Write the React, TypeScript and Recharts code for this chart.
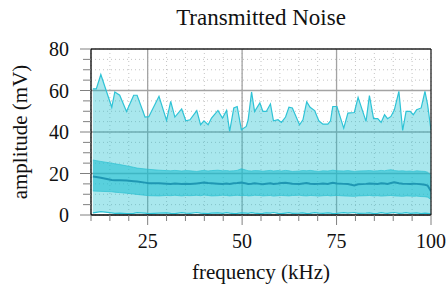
import { ComposedChart, Area, Line, XAxis, YAxis, CartesianGrid, ReferenceLine } from "recharts";

const FREQ = [
  10.5, 11.4, 12.6, 15.5, 16.3, 17.6, 19.4, 21.3, 22.2, 24.3,
  25.3, 28.0, 30.0, 31.1, 32.2, 34.0, 35.1, 36.2, 38.0, 39.0,
  39.9, 41.0, 41.9, 43.6, 44.8, 45.9, 46.7, 47.8, 48.7, 49.8,
  51.1, 51.6, 52.5, 53.3, 54.7, 55.5, 56.4, 57.5, 58.3, 59.5,
  60.4, 61.5, 62.4, 63.3, 65.2, 66.1, 67.1, 68.0, 69.2, 70.3,
  71.4, 72.7, 73.4, 74.0, 75.1, 76.9, 78.0, 79.7, 80.7, 82.8,
  83.7, 84.8, 85.9, 86.8, 87.7, 88.5, 89.4, 90.3, 91.5, 92.5,
  93.4, 94.5, 95.3, 96.2, 97.4, 98.4, 99.1, 100,
];

const MAX_AMP = [
  60.8, 60.8, 67.7, 51.9, 59.3, 57.7, 49.9, 57.7, 57.7, 47.2,
  47.4, 57.2, 45.6, 54.8, 47.2, 51.1, 45.4, 45.9, 50.3, 43.5,
  45.4, 43.5, 46.7, 50.4, 46.7, 50.4, 40.3, 51.6, 52.3, 41.1,
  42.7, 45.9, 59.3, 49.9, 54.0, 49.9, 49.9, 53.5, 45.4, 45.9,
  44.6, 47.2, 52.0, 51.6, 43.5, 45.9, 54.5, 51.9, 50.3, 45.4,
  43.8, 43.8, 45.4, 52.3, 52.3, 41.9, 49.1, 49.4, 56.7, 45.1,
  57.5, 46.4, 46.4, 44.6, 48.3, 46.4, 47.5, 50.7, 59.6, 40.8,
  49.9, 49.9, 48.3, 50.7, 51.6, 59.6, 53.2, 41,
];

const UPPER_AMP = [
  26.5, 26.2, 25.8, 25.0, 24.7, 24.3, 23.7, 23.0, 22.6, 22.2,
  22.0, 21.6, 21.4, 21.3, 21.5, 21.2, 21.4, 21.3, 21.0, 21.3,
  21.5, 21.2, 21.4, 21.6, 21.3, 21.4, 21.2, 21.3, 21.5, 22.3,
  21.6, 21.3, 21.2, 21.4, 21.3, 21.1, 21.3, 21.5, 21.2, 21.4,
  21.2, 21.5, 21.3, 21.0, 21.2, 21.4, 21.3, 21.5, 21.2, 21.0,
  21.3, 21.2, 21.4, 21.6, 21.3, 21.2, 21.4, 21.0, 21.2, 21.3,
  21.4, 21.2, 21.3, 21.5, 21.3, 21.6, 21.8, 21.4, 21.2, 21.3,
  21.1, 21.2, 21.0, 21.3, 21.1, 21.0, 20.6, 19.0,
];

const MEAN_AMP = [
  18.5, 18.3, 18.0, 16.9, 16.8, 16.7, 16.6, 16.3, 16.1, 15.6,
  15.3, 15.3, 15.1, 15.0, 15.2, 15.0, 15.1, 14.9, 15.2, 15.4,
  15.6, 15.4, 15.3, 15.1, 14.9, 15.2, 15.0, 15.3, 15.4, 15.6,
  15.2, 15.0, 15.1, 15.3, 15.0, 14.8, 15.1, 15.3, 15.0, 15.2,
  15.4, 15.5, 15.3, 15.1, 15.0, 15.2, 15.4, 15.1, 14.9, 15.0,
  15.2, 15.0, 15.3, 15.5, 15.2, 15.0, 14.9, 14.2, 14.8, 15.0,
  15.2, 15.1, 15.0, 15.3, 15.2, 15.0, 15.4, 15.8, 15.3, 15.1,
  15.0, 14.9, 15.1, 15.0, 14.8, 14.6, 14.2, 11.5,
];

const LOWER_AMP = [
  11.6, 11.5, 11.4, 11.2, 11.0, 10.8, 10.5, 10.1, 9.9, 9.5,
  9.3, 9.2, 9.4, 9.3, 9.5, 9.2, 9.4, 9.3, 9.5, 9.3,
  9.6, 9.4, 9.2, 9.3, 9.5, 9.4, 9.2, 9.4, 9.5, 9.3,
  9.4, 9.2, 9.3, 9.5, 9.4, 9.2, 9.3, 9.4, 9.1, 9.3,
  9.4, 9.3, 9.2, 9.4, 9.5, 9.3, 9.2, 9.4, 9.3, 9.1,
  9.3, 9.4, 9.2, 9.3, 9.4, 9.2, 9.1, 9.0, 9.2, 9.3,
  9.4, 9.2, 9.3, 9.1, 9.2, 9.3, 9.4, 9.2, 9.1, 9.0,
  9.2, 9.1, 9.0, 9.1, 8.9, 8.8, 8.6, 7.5,
];

const MIN_AMP = [
  1.0, 1.3, 1.6, 1.0, 0.8, 0.9, 0.7, 0.8, 1.1, 0.9,
  0.7, 0.9, 1.0, 0.8, 0.7, 1.1, 0.9, 0.8, 1.2, 0.9,
  0.8, 0.7, 0.9, 1.0, 0.8, 1.1, 0.9, 0.7, 0.8, 1.0,
  0.9, 0.8, 1.1, 0.9, 0.7, 0.8, 1.0, 0.9, 1.2, 0.8,
  0.7, 0.9, 1.1, 0.8, 0.9, 1.0, 0.7, 0.8, 1.1, 0.9,
  0.8, 1.0, 0.9, 0.7, 0.8, 1.1, 0.9, 1.2, 0.8, 0.9,
  1.0, 0.7, 0.8, 1.1, 0.9, 0.8, 1.0, 1.2, 0.8, 0.9,
  1.1, 0.8, 0.9, 1.0, 0.7, 0.9, 0.8, 0.6,
];

const X_TICKS = [10, 15, 20, 25, 30, 35, 40, 45, 50, 55, 60, 65, 70, 75, 80, 85, 90, 95, 100];
const X_MAJOR = [25, 50, 75];
const Y_TICKS = [0, 5, 10, 15, 20, 25, 30, 35, 40, 45, 50, 55, 60, 65, 70, 75, 80];
const Y_MAJOR = [20, 40, 60];

const W = 448;
const H = 285;
const PLOT_LEFT = 91;
const PLOT_TOP = 49;
const PLOT_BOTTOM = 215;
const FONT = "'Liberation Serif', 'Times New Roman', serif";

const data = FREQ.map((f, i) => ({
  freq: f,
  outer: [MIN_AMP[i], MAX_AMP[i]],
  band: [LOWER_AMP[i], UPPER_AMP[i]],
  mean: MEAN_AMP[i],
}));

function XTick({ x, payload }: any) {
  const v = payload.value;
  const major = v % 25 === 0;
  return (
    <g>
      <line x1={x} x2={x} y1={PLOT_BOTTOM} y2={PLOT_BOTTOM + (major ? 10 : 6)} stroke="#808080" strokeWidth={1} />
      {major && v !== 10 && (
        <text x={x} y={PLOT_BOTTOM + 33} textAnchor="middle" fontFamily={FONT} fontSize={20} fill="#111">
          {v}
        </text>
      )}
    </g>
  );
}

function YTick({ y, payload }: any) {
  const v = payload.value;
  const major = v % 20 === 0;
  return (
    <g>
      <line x1={PLOT_LEFT - (major ? 11 : 8)} x2={PLOT_LEFT} y1={y} y2={y} stroke="#808080" strokeWidth={1} />
      {major && (
        <text x={PLOT_LEFT - 22} y={y + 7} textAnchor="end" fontFamily={FONT} fontSize={20} fill="#111">
          {v}
        </text>
      )}
    </g>
  );
}

export default function App() {
  return (
    <div style={{ position: "absolute", left: 0, top: 0, width: W, height: H, background: "#fff" }}>
      <div
        style={{
          position: "absolute",
          left: PLOT_LEFT,
          width: 340,
          top: 6,
          lineHeight: "23px",
          textAlign: "center",
          fontFamily: FONT,
          fontSize: 23,
          color: "#111",
        }}
      >
        Transmitted Noise
      </div>
      <ComposedChart width={W} height={H} data={data} margin={{ top: PLOT_TOP, right: 17, left: 0, bottom: 0 }}>
        <CartesianGrid stroke="#c4c4c4" strokeDasharray="1 3" strokeWidth={1} />
        <CartesianGrid
          stroke="#a3a3a3"
          strokeWidth={1.3}
          verticalValues={X_MAJOR}
          horizontalValues={Y_MAJOR}
        />
        <XAxis
          dataKey="freq"
          type="number"
          domain={[10, 100]}
          ticks={X_TICKS}
          interval={0}
          allowDataOverflow
          height={70}
          axisLine={{ stroke: "#000", strokeWidth: 1.3 }}
          tickLine={false}
          tick={<XTick />}
          label={{
            content: ({ viewBox }: any) => (
              <text
                x={viewBox.x + viewBox.width / 2}
                y={viewBox.y + 64}
                textAnchor="middle"
                fontFamily={FONT}
                fontSize={21}
                fill="#111"
              >
                frequency (kHz)
              </text>
            ),
          }}
        />
        <YAxis
          type="number"
          domain={[0, 80]}
          ticks={Y_TICKS}
          interval={0}
          allowDataOverflow
          width={PLOT_LEFT}
          axisLine={{ stroke: "#000", strokeWidth: 1.3 }}
          tickLine={false}
          tick={<YTick />}
          label={{
            content: ({ viewBox }: any) => {
              const cx = 27;
              const cy = viewBox.y + viewBox.height / 2;
              return (
                <text
                  x={cx}
                  y={cy}
                  transform={`rotate(-90, ${cx}, ${cy})`}
                  textAnchor="middle"
                  fontFamily={FONT}
                  fontSize={21}
                  fill="#111"
                >
                  amplitude (mV)
                </text>
              );
            },
          }}
        />
        <Area
          dataKey="outer"
          type="linear"
          fill="#17becf"
          fillOpacity={0.37}
          stroke="#2ec3d6"
          strokeWidth={1.2}
          isAnimationActive={false}
          dot={false}
          activeDot={false}
        />
        <Area
          dataKey="band"
          type="linear"
          fill="#17becf"
          fillOpacity={0.55}
          stroke="#2cc0d2"
          strokeOpacity={0.7}
          strokeWidth={1}
          isAnimationActive={false}
          dot={false}
          activeDot={false}
        />
        <Line
          dataKey="mean"
          type="linear"
          stroke="#1f97b3"
          strokeWidth={2}
          dot={false}
          activeDot={false}
          isAnimationActive={false}
        />
        <ReferenceLine y={80} stroke="#222" strokeWidth={1.3} />
        <ReferenceLine x={100} stroke="#222" strokeWidth={1.3} />
      </ComposedChart>
    </div>
  );
}
